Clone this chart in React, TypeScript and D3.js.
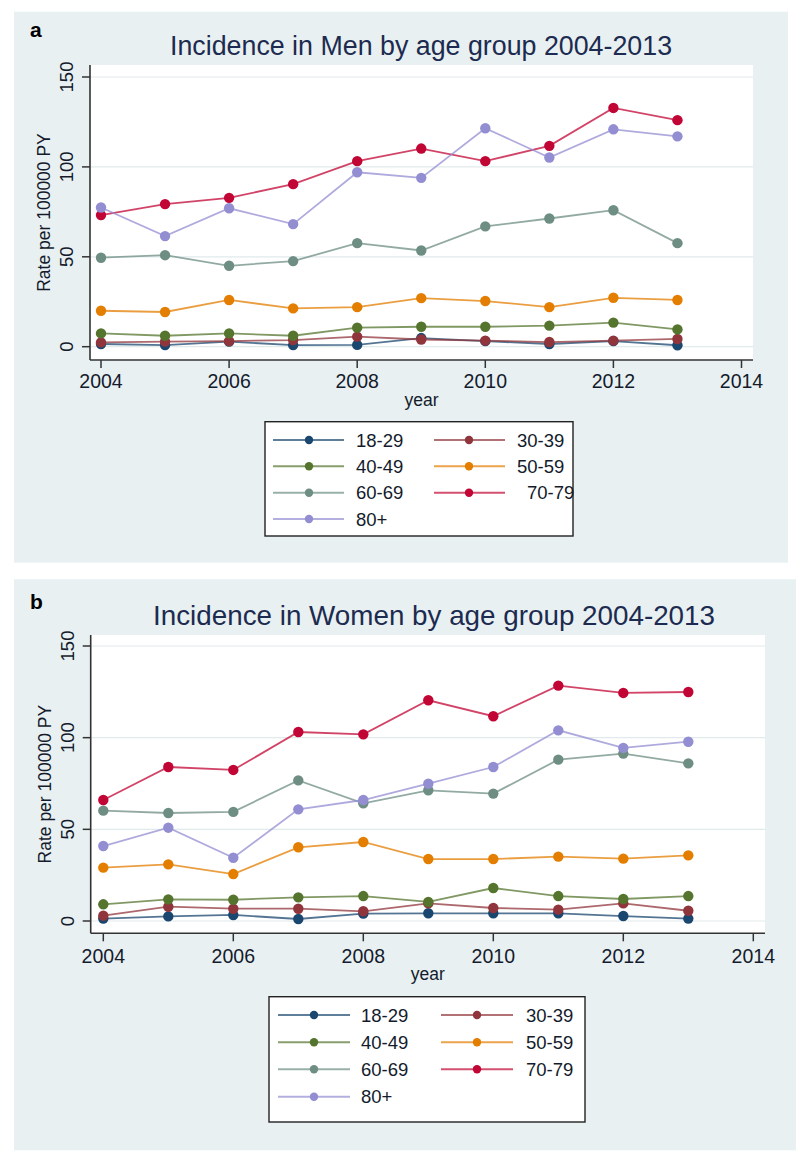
import React from "react";
import * as d3 from "d3";

const years = [2004, 2005, 2006, 2007, 2008, 2009, 2010, 2011, 2012, 2013];
const ageGroups = ["18-29", "30-39", "40-49", "50-59", "60-69", "70-79", "80+"];
const groupColors = ["#1a476f", "#90353b", "#55752f", "#e37e00", "#6e8e84", "#c10534", "#938dd2"];
const xTicks = [2004, 2006, 2008, 2010, 2012, 2014];
const yTicks = [0, 50, 100, 150];

// Men
const men1829 = [1.5, 0.9, 2.8, 0.9, 1.0, 4.8, 3.1, 1.5, 3.1, 0.8];
const men3039 = [2.4, 2.8, 3.1, 3.7, 5.6, 4.0, 3.4, 2.6, 3.4, 4.3];
const men4049 = [7.4, 6.1, 7.4, 6.1, 10.6, 11.1, 11.1, 11.7, 13.4, 9.6];
const men5059 = [20, 19.3, 26, 21.3, 22, 27, 25.4, 22, 27.2, 26];
const men6069 = [49.5, 50.9, 45, 47.6, 57.6, 53.5, 66.9, 71.3, 75.9, 57.6];
const men7079 = [73.2, 79.3, 82.8, 90.4, 103.2, 110.2, 103.2, 111.7, 132.8, 126];
const men80 = [77.4, 61.5, 77, 68.2, 97, 93.9, 121.5, 105.2, 120.9, 117];

// Women
const women1829 = [1.3, 2.5, 3.3, 1.1, 4.0, 4.2, 4.2, 4.2, 2.7, 1.3];
const women3039 = [2.9, 7.8, 6.7, 6.7, 5.3, 9.6, 7.1, 6.2, 9.6, 5.6];
const women4049 = [9.1, 11.8, 11.6, 12.9, 13.6, 10.4, 18, 13.6, 12, 13.6];
const women5059 = [29.1, 30.9, 25.6, 40.2, 43.1, 33.8, 33.8, 35.1, 34, 35.8];
const women6069 = [60.2, 58.9, 59.5, 76.7, 64.2, 71.3, 69.5, 88, 91.3, 86];
const women7079 = [66, 84, 82.4, 103.1, 101.8, 120.4, 111.7, 128.4, 124.4, 124.9];
const women80 = [40.9, 50.9, 34.5, 60.9, 66, 74.9, 84, 104, 94.4, 97.8];

const menSeries = [men1829, men3039, men4049, men5059, men6069, men7079, men80];
const womenSeries = [women1829, women3039, women4049, women5059, women6069, women7079, women80];

const FONT = "'Liberation Sans', Arial, sans-serif";
const BG = "#e8f0f2";
const TXT = "#141b2c";

type Layout = {
  bg: [number, number, number, number];
  letter: string;
  letterY: number;
  title: string;
  titleX: number;
  titleY: number;
  titleSize: number;
  plotL: number;
  plotR: number;
  plotT: number;
  plotB: number;
  x0: number;
  x1: number;
  y0: number;
  y150: number;
  xLabelY: number;
  yearY: number;
  legend: [number, number, number, number];
  rows: number[];
  col1: [number, number, number, number];
  col2: [number, number, number, number];
  label7079Offset: number;
};

function Panel({ L, series }: { L: Layout; series: number[][] }) {
  const x = d3.scaleLinear().domain([2004, 2014]).range([L.x0, L.x1]);
  const y = d3.scaleLinear().domain([0, 150]).range([L.y0, L.y150]);
  const line = d3
    .line<number>()
    .x((_, i) => x(years[i]))
    .y((v) => y(v));
  const [bx, by, bw, bh] = L.bg;
  const [lx, ly, lw, lh] = L.legend;
  const yMid = (L.plotT + L.plotB) / 2;
  return (
    <g>
      <rect x={bx} y={by} width={bw} height={bh} fill={BG} />
      <text x={30} y={L.letterY} fontFamily={FONT} fontWeight="bold" fontSize={21} fill="#000">
        {L.letter}
      </text>
      <text
        x={L.titleX}
        y={L.titleY}
        fontFamily={FONT}
        fontSize={L.titleSize}
        fill="#1c2b4f"
        textAnchor="middle"
      >
        {L.title}
      </text>
      <rect x={L.plotL} y={L.plotT} width={L.plotR - L.plotL} height={L.plotB - L.plotT} fill="#fff" />
      {yTicks.map((t) => (
        <line key={"g" + t} x1={L.plotL} x2={L.plotR} y1={y(t)} y2={y(t)} stroke="#e1eaec" strokeWidth={1.2} />
      ))}
      <line x1={L.plotL} x2={L.plotL} y1={L.plotT} y2={L.plotB} stroke="#333" strokeWidth={1.6} />
      <line x1={L.plotL} x2={L.plotR} y1={L.plotB} y2={L.plotB} stroke="#333" strokeWidth={1.6} />
      {yTicks.map((t) => (
        <g key={"yt" + t}>
          <line x1={L.plotL - 8} x2={L.plotL} y1={y(t)} y2={y(t)} stroke="#333" strokeWidth={1.5} />
          <text
            transform={`translate(${L.plotL - 17},${y(t)}) rotate(-90)`}
            fontFamily={FONT}
            fontSize={18.5}
            fill={TXT}
            textAnchor="middle"
          >
            {t}
          </text>
        </g>
      ))}
      <text
        transform={`translate(${L.plotL - 40},${yMid}) rotate(-90)`}
        fontFamily={FONT}
        fontSize={17.5}
        fill={TXT}
        textAnchor="middle"
      >
        Rate per 100000 PY
      </text>
      {xTicks.map((t) => (
        <g key={"xt" + t}>
          <line x1={x(t)} x2={x(t)} y1={L.plotB} y2={L.plotB + 8} stroke="#333" strokeWidth={1.5} />
          <text x={x(t)} y={L.xLabelY} fontFamily={FONT} fontSize={19.5} fill={TXT} textAnchor="middle">
            {t}
          </text>
        </g>
      ))}
      <text x={(L.plotL + L.plotR) / 2} y={L.yearY} fontFamily={FONT} fontSize={17.5} fill={TXT} textAnchor="middle">
        year
      </text>
      {series.map((s, gi) => (
        <g key={"s" + gi}>
          <path d={line(s) || ""} fill="none" stroke={groupColors[gi]} strokeOpacity={0.75} strokeWidth={1.8} />
          {s.map((v, i) => (
            <circle key={i} cx={x(years[i])} cy={y(v)} r={5.2} fill={groupColors[gi]} />
          ))}
        </g>
      ))}
      <rect x={lx} y={ly} width={lw} height={lh} fill="#fff" stroke="#222" strokeWidth={1.4} />
      {ageGroups.map((g, gi) => {
        const row = Math.floor(gi / 2);
        const col = gi % 2 === 0 ? L.col1 : L.col2;
        const ry = L.rows[row];
        const [a, b, m, tx] = col;
        const off = g === "70-79" ? L.label7079Offset : 0;
        return (
          <g key={"lg" + gi}>
            <line x1={a} x2={b} y1={ry} y2={ry} stroke={groupColors[gi]} strokeOpacity={0.7} strokeWidth={1.9} />
            <circle cx={m} cy={ry} r={4.2} fill={groupColors[gi]} />
            <text x={tx + off} y={ry + 6.5} fontFamily={FONT} fontSize={18.5} fill={TXT}>
              {g}
            </text>
          </g>
        );
      })}
    </g>
  );
}

const layoutMen: Layout = {
  bg: [14, 11.7, 774, 551],
  letter: "a",
  letterY: 37,
  title: "Incidence in Men by age group 2004-2013",
  titleX: 421,
  titleY: 55,
  titleSize: 26.8,
  plotL: 90,
  plotR: 753,
  plotT: 65,
  plotB: 360,
  x0: 101,
  x1: 741.5,
  y0: 346.7,
  y150: 77,
  xLabelY: 388,
  yearY: 406,
  legend: [265, 421.7, 308, 114.3],
  rows: [440, 466.3, 492.7, 519],
  col1: [273, 344, 309, 356],
  col2: [434, 505, 469, 517],
  label7079Offset: 10,
};

const layoutWomen: Layout = {
  bg: [14, 579.3, 782, 571],
  letter: "b",
  letterY: 609,
  title: "Incidence in Women by age group 2004-2013",
  titleX: 434,
  titleY: 625,
  titleSize: 27.8,
  plotL: 90.7,
  plotR: 765,
  plotT: 635,
  plotB: 933.3,
  x0: 103.3,
  x1: 753.3,
  y0: 921,
  y150: 646,
  xLabelY: 963,
  yearY: 980,
  legend: [269, 996.7, 316, 125.3],
  rows: [1015, 1042.3, 1069.3, 1096.7],
  col1: [278, 350, 314, 361],
  col2: [441, 513, 477, 526],
  label7079Offset: 0,
};

export default function App() {
  return (
    <svg
      width={800}
      height={1154}
      viewBox="0 0 800 1154"
      style={{ position: "absolute", left: 0, top: 0, background: "#fff" }}
    >
      <Panel L={layoutMen} series={menSeries} />
      <Panel L={layoutWomen} series={womenSeries} />
    </svg>
  );
}
